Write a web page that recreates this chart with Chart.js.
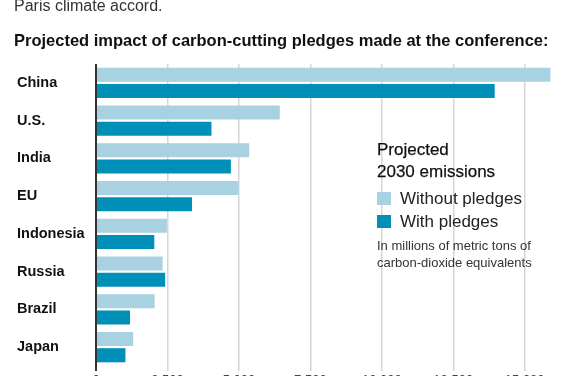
<!DOCTYPE html>
<html>
<head>
<meta charset="utf-8">
<script src="https://cdn.jsdelivr.net/npm/chart.js@4.4.1/dist/chart.umd.min.js"></script>
<style>
  html, body {
    margin: 0;
    padding: 0;
    background: #fff;
  }
  #page {
    position: relative;
    width: 578px;
    height: 376px;
    overflow: hidden;
    font-family: "Liberation Sans", Arial, sans-serif;
    color: #1a1a1a;
  }
  #chartBox {
    position: absolute;
    left: 0;
    top: 0;
    width: 578px;
    height: 392px;
  }
  .txt {
    position: absolute;
    white-space: nowrap;
  }
  #lead {
    left: 14px;
    top: -3px;
    font-size: 16px;
    color: #333;
  }
  #subtitle {
    left: 14px;
    top: 31px;
    font-size: 16.5px;
    font-weight: bold;
    color: #111;
  }
  #legend {
    position: absolute;
    left: 377px;
    top: 139px;
  }
  #legend .head {
    font-size: 17px;
    line-height: 22px;
    color: #111;
    -webkit-text-stroke: 0.25px #111;
  }
  #legend .item {
    font-size: 17px;
    line-height: 23px;
    height: 23px;
    color: #222;
  }
  #legend .sw {
    display: inline-block;
    width: 14px;
    height: 13px;
    margin-right: 9px;
    vertical-align: -1px;
  }
  #legend .note {
    font-size: 13px;
    line-height: 17px;
    color: #333;
    margin-top: 4px;
  }
</style>
</head>
<body>
<div id="page">
  <div id="chartBox"><canvas id="pledgeChart"></canvas></div>
  <div class="txt" id="lead">Paris climate accord.</div>
  <div class="txt" id="subtitle">Projected impact of carbon-cutting pledges made at the conference:</div>
  <div id="legend">
    <div class="head">Projected<br>2030 emissions</div>
    <div style="height:4px"></div>
    <div class="item"><span class="sw" style="background:#a8d1e1"></span>Without pledges</div>
    <div class="item"><span class="sw" style="background:#0090b7"></span>With pledges</div>
    <div class="note">In millions of metric tons of<br>carbon-dioxide equivalents</div>
  </div>
</div>
<script>
const countries = ["China", "U.S.", "India", "EU", "Indonesia", "Russia", "Brazil", "Japan"];
const withoutPledges = [15900, 6430, 5360, 4990, 2480, 2330, 2050, 1300];
const withPledges = [13950, 4040, 4720, 3360, 2040, 2420, 1190, 1030];
const tickValues = [0, 2500, 5000, 7500, 10000, 12500, 15000];
const tickLabels = ["0", "2,500", "5,000", "7,500", "10,000", "12,500", "15,000"];

const lightBlue = "#a8d1e1";
const darkBlue = "#0090b7";

document.addEventListener("DOMContentLoaded", function () {
  const ctx = document.getElementById("pledgeChart");

  new Chart(ctx, {
    type: "bar",
    data: {
      labels: countries,
      datasets: [
        {
          label: "Without pledges",
          data: withoutPledges,
          backgroundColor: lightBlue,
          borderWidth: 0,
        },
        {
          label: "With pledges",
          data: withPledges,
          backgroundColor: darkBlue,
          borderWidth: 0,
        },
      ],
    },
    options: {
      indexAxis: "y",
      responsive: true,
      maintainAspectRatio: false,
      animation: false,
      categoryPercentage: 0.86,
      barPercentage: 0.87,
      layout: {
        padding: { top: 64, left: 17, right: 19, bottom: 0 },
      },
      plugins: {
        legend: { display: false },
        tooltip: { enabled: false },
      },
      scales: {
        y: {
          grid: { display: false },
          border: { display: false },
          ticks: {
            crossAlign: "far",
            padding: 0,
            color: "#111",
            font: { family: "Liberation Sans", size: 14.5, weight: "bold" },
          },
          afterFit: function (scale) {
            scale.width = 79;
          },
        },
        x: {
          min: 0,
          max: 16200,
          position: "bottom",
          border: { display: false },
          afterBuildTicks: function (scale) {
            scale.ticks = tickValues.map(function (v) {
              return { value: v };
            });
          },
          ticks: {
            padding: 1.5,
            color: "#444",
            font: { family: "Liberation Sans", size: 13 },
            callback: function (value, index) {
              return tickLabels[index];
            },
          },
          grid: {
            tickLength: 5,
            color: function (c) {
              return c.tick && c.tick.value === 0 ? "#333" : "#d6d6d6";
            },
            lineWidth: function (c) {
              return c.tick && c.tick.value === 0 ? 2 : 1.5;
            },
          },
          afterFit: function (scale) {
            scale.height = 26;
          },
        },
      },
    },
  });
});
</script>
</body>
</html>
